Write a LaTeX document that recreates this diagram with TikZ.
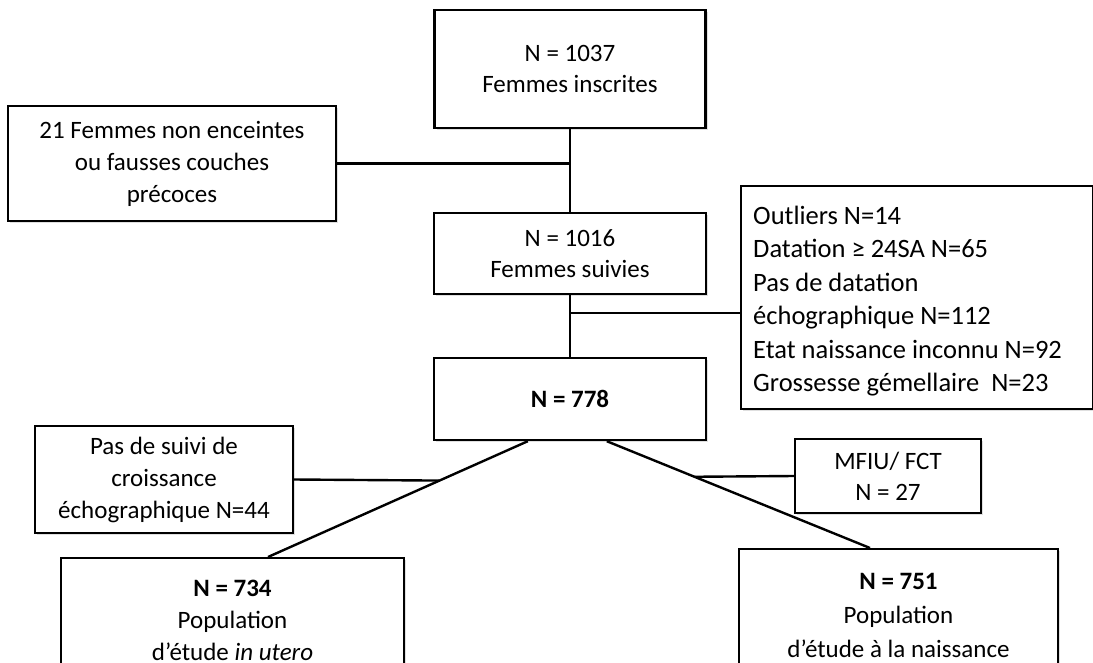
\documentclass[tikz,border=0pt]{standalone}
\usepackage{fontspec}
\setmainfont{Carlito}
\usetikzlibrary{positioning,shadows,calc}

\begin{document}
\begin{tikzpicture}[x=1pt, y=-1pt,
    box/.style={rectangle, draw=black, line width=2.4pt, fill=white, align=center,
                inner sep=0pt, font=\fontsize{25}{31}\selectfont,
                drop shadow={opacity=0.25, shadow xshift=2pt, shadow yshift=-2pt}},
    link/.style={line width=2.4pt}
]
\clip (0,0) rectangle (1093,662);

% Top chain
\node[box, minimum width=271pt, minimum height=118pt] (inscrites) at (570,69) {N = 1037\\Femmes inscrites};
\node[box, minimum width=328pt, minimum height=115pt, font=\fontsize{25}{32}\selectfont] (nonenc) at (172,163.5)
    {21 Femmes non enceintes\\ou fausses couches\\précoces};
\node[box, minimum width=272pt, minimum height=81pt] (suivies) at (570,253.5) {N = 1016\\Femmes suivies};
\node[box, anchor=north west, align=flush left, text width=328pt, inner xsep=12pt,
      text height=38pt, text depth=185pt, font=\fontsize{26.5}{33.5}\selectfont] (exclus) at (740,185)
    {Outliers N=14\\Datation ≥ 24SA N=65\\Pas de datation\\échographique N=112\\Etat naissance inconnu N=92\\Grossesse gémellaire\ \ N=23};
\node[box, minimum width=272pt, minimum height=82pt] (n778) at (570,399) {\textbf{N = 778}};

% Exclusions after N = 778
\node[box, minimum width=258pt, minimum height=107pt, font=\fontsize{25}{32}\selectfont] (suivi) at (164,479.5)
    {Pas de suivi de\\croissance\\échographique N=44};
\node[box, minimum width=186pt, minimum height=74pt] (mfiu) at (888,476) {MFIU/ FCT\\N = 27};

% Study populations
\node[box, anchor=north, minimum width=343pt, inner ysep=22pt, text depth=60pt,
      font=\fontsize{25}{32}\selectfont] (utero) at (232.5,557)
    {\textbf{N = 734}\\Population\\d’étude \textit{in utero}};
\node[box, anchor=north, minimum width=319pt, inner ysep=24pt, text depth=60pt,
      font=\fontsize{25}{34}\selectfont] (naiss) at (898.5,548)
    {\textbf{N = 751}\\Population\\d’étude à la naissance};

% Connections
\draw[link] (inscrites) -- (suivies);
\draw[link] (nonenc.east) -- (nonenc.east -| inscrites.south);
\draw[link] (suivies) -- (n778);
\coordinate (j2) at (570,313);
\draw[link] (j2) -- (j2 -| exclus.west);

\coordinate (dl) at ($(n778.south west)+(95,0)$);
\coordinate (ul) at ($(utero.north)+(35.5,0)$);
\draw[link] (dl) -- coordinate[pos=0.34] (bl) (ul);
\draw[link] (suivi.east) -- (bl);

\coordinate (dr) at ($(n778.south west)+(174,0)$);
\coordinate (ur) at ($(naiss.north)+(-28.5,0)$);
\draw[link] (dr) -- coordinate[pos=0.333] (br) (ur);
\draw[link] (mfiu.west) -- (br);

\end{tikzpicture}
\end{document}
